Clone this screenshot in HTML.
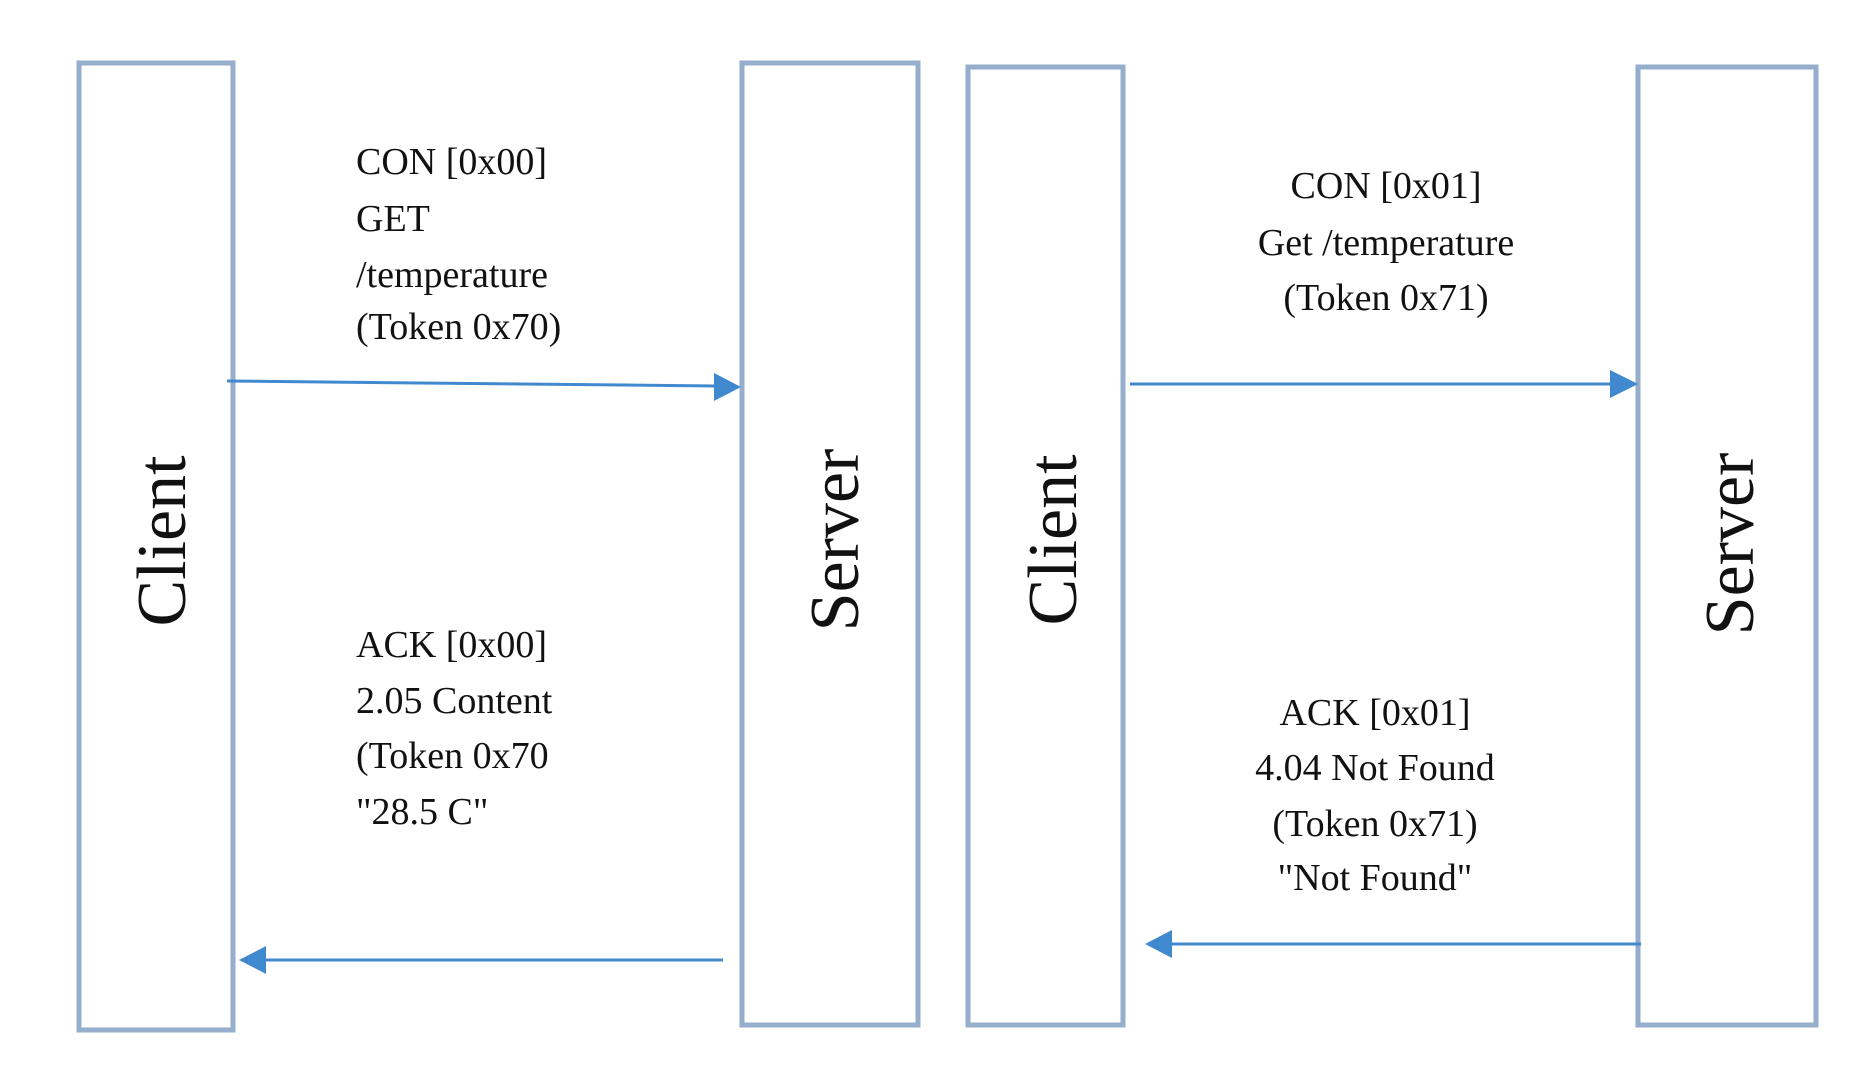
<!DOCTYPE html>
<html><head><meta charset="utf-8"><style>html,body{margin:0;padding:0;background:#fff}svg{display:block}</style></head>
<body>
<svg width="1864" height="1083" viewBox="0 0 1864 1083" xmlns="http://www.w3.org/2000/svg" font-family="'Liberation Serif', serif" fill="#111">
<g fill="none" stroke="#94aecb" stroke-width="5">
<rect x="79" y="63" width="154" height="967"/>
<rect x="742" y="63" width="176" height="962"/>
<rect x="968" y="67" width="155" height="958"/>
<rect x="1638" y="67" width="178" height="958"/>
</g>
<g stroke="#4189cf" stroke-width="3" fill="#4189cf">
<line x1="227" y1="381" x2="716" y2="386"/>
<polygon points="741,387 714,373 714,401" stroke="none"/>
<line x1="723" y1="960" x2="262" y2="960"/>
<polygon points="239,960 266,946 266,974" stroke="none"/>
<line x1="1130" y1="384" x2="1612" y2="384"/>
<polygon points="1638,384 1610,370 1610,398" stroke="none"/>
<line x1="1641" y1="944" x2="1170" y2="944"/>
<polygon points="1145,944 1172,930 1172,958" stroke="none"/>
</g>
<g font-size="38">
<text x="356" y="174">CON [0x00]</text>
<text x="356" y="231">GET</text>
<text x="356" y="287">/temperature</text>
<text x="356" y="339">(Token 0x70)</text>
<text x="356" y="657">ACK [0x00]</text>
<text x="356" y="713">2.05 Content</text>
<text x="356" y="768">(Token 0x70</text>
<text x="356" y="824">"28.5 C"</text>
</g>
<g font-size="38" text-anchor="middle">
<text x="1386" y="198">CON [0x01]</text>
<text x="1386" y="255">Get /temperature</text>
<text x="1386" y="310">(Token 0x71)</text>
<text x="1375" y="725">ACK [0x01]</text>
<text x="1375" y="780">4.04 Not Found</text>
<text x="1375" y="836">(Token 0x71)</text>
<text x="1375" y="890">"Not Found"</text>
</g>
<g font-size="70" text-anchor="middle">
<text transform="translate(185,541) rotate(-90)">Client</text>
<text transform="translate(858,540) rotate(-90)">Server</text>
<text transform="translate(1076,540) rotate(-90)">Client</text>
<text transform="translate(1753,544) rotate(-90)">Server</text>
</g>
</svg>
</body></html>
